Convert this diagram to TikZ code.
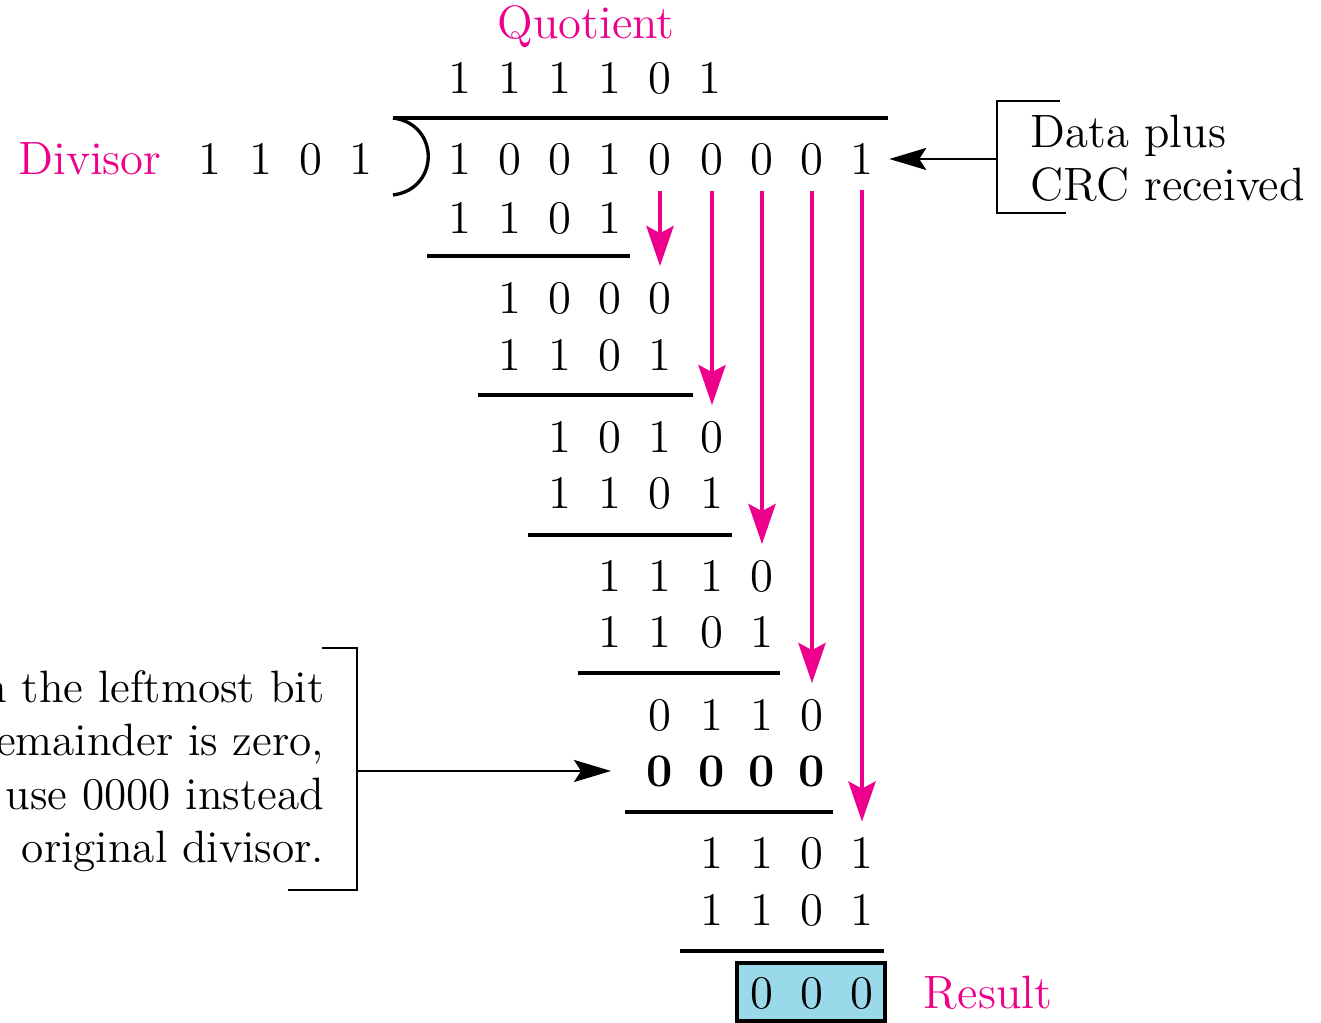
\documentclass[tikz,border=0pt]{standalone}
\usepackage{fontspec}
\usetikzlibrary{arrows.meta}
\definecolor{crcpink}{RGB}{236,0,140}
\definecolor{resblue}{RGB}{153,217,234}

\begin{document}
\begin{tikzpicture}[x=1cm, y=-1cm,
  every node/.style={font=\fontsize{13.3}{15.2}\selectfont},
  bit/.style={inner sep=4.3pt},
  boldbit/.style={inner sep=4.3pt, font=\fontsize{13.3}{15.2}\selectfont\bfseries},
  pinklabel/.style={text=crcpink},
  barline/.style={line width=0.95pt},
  bringdown/.style={draw=crcpink, line width=1.35pt, -{Stealth[length=0.4cm, width=0.27cm, inset=0.07cm]}},
  pointer/.style={draw=black, line width=0.75pt, -{Stealth[length=0.37cm, width=0.22cm, inset=0.07cm]}}]
\useasboundingbox (0,0) rectangle (13.21,10.23);

% labels
\node[pinklabel] (quot) at (5.86,0.27) {Quotient};
\node[pinklabel] (dvsr) at (0.90,1.59) {Divisor};
\node[pinklabel] (res) at (9.88,9.93) {Result};

% quotient
\node[bit] (q0) at (4.60,0.78) {1};
\node[bit] (q1) at (5.10,0.78) {1};
\node[bit] (q2) at (5.60,0.78) {1};
\node[bit] (q3) at (6.10,0.78) {1};
\node[bit] (q4) at (6.60,0.78) {0};
\node[bit] (q5) at (7.10,0.78) {1};

% divisor
\node[bit] (v0) at (2.10,1.59) {1};
\node[bit] (v1) at (2.61,1.59) {1};
\node[bit] (v2) at (3.11,1.59) {0};
\node[bit] (v3) at (3.61,1.59) {1};

% dividend
\node[bit] (d0) at (4.60,1.59) {1};
\node[bit] (d1) at (5.10,1.59) {0};
\node[bit] (d2) at (5.60,1.59) {0};
\node[bit] (d3) at (6.10,1.59) {1};
\node[bit] (d4) at (6.60,1.59) {0};
\node[bit] (d5) at (7.12,1.59) {0};
\node[bit] (d6) at (7.62,1.59) {0};
\node[bit] (d7) at (8.12,1.59) {0};
\node[bit] (d8) at (8.62,1.59) {1};

\draw[barline] (3.93,1.18) -- (8.88,1.18);
\draw[barline] (3.93,1.18) .. controls (4.40,1.24) and (4.40,1.89) .. (3.93,1.95);

% step 1
\node[bit] (m1c0) at (4.60,2.18) {1};
\node[bit] (m1c1) at (5.10,2.18) {1};
\node[bit] (m1c2) at (5.60,2.18) {0};
\node[bit] (m1c3) at (6.10,2.18) {1};
\draw[barline] (4.27,2.56) -- (6.30,2.56);

\node[bit] (p1c1) at (5.10,2.98) {1};
\node[bit] (p1c2) at (5.60,2.98) {0};
\node[bit] (p1c3) at (6.10,2.98) {0};
\node[bit] (p1c4) at (6.60,2.98) {0};

% step 2
\node[bit] (m2c1) at (5.10,3.55) {1};
\node[bit] (m2c2) at (5.60,3.55) {1};
\node[bit] (m2c3) at (6.10,3.55) {0};
\node[bit] (m2c4) at (6.60,3.55) {1};
\draw[barline] (4.78,3.95) -- (6.93,3.95);

\node[bit] (p2c2) at (5.60,4.37) {1};
\node[bit] (p2c3) at (6.10,4.37) {0};
\node[bit] (p2c4) at (6.60,4.37) {1};
\node[bit] (p2c5) at (7.12,4.37) {0};

% step 3
\node[bit] (m3c2) at (5.60,4.93) {1};
\node[bit] (m3c3) at (6.10,4.93) {1};
\node[bit] (m3c4) at (6.60,4.93) {0};
\node[bit] (m3c5) at (7.12,4.93) {1};
\draw[barline] (5.28,5.35) -- (7.32,5.35);

\node[bit] (p3c3) at (6.10,5.76) {1};
\node[bit] (p3c4) at (6.60,5.76) {1};
\node[bit] (p3c5) at (7.12,5.76) {1};
\node[bit] (p3c6) at (7.62,5.76) {0};

% step 4
\node[bit] (m4c3) at (6.10,6.32) {1};
\node[bit] (m4c4) at (6.60,6.32) {1};
\node[bit] (m4c5) at (7.12,6.32) {0};
\node[bit] (m4c6) at (7.62,6.32) {1};
\draw[barline] (5.78,6.73) -- (7.80,6.73);

\node[bit] (p4c4) at (6.60,7.15) {0};
\node[bit] (p4c5) at (7.12,7.15) {1};
\node[bit] (p4c6) at (7.62,7.15) {1};
\node[bit] (p4c7) at (8.12,7.15) {0};

% step 5, leading bit is 0
\node[boldbit] (m5c4) at (6.60,7.71) {0};
\node[boldbit] (m5c5) at (7.12,7.71) {0};
\node[boldbit] (m5c6) at (7.62,7.71) {0};
\node[boldbit] (m5c7) at (8.12,7.71) {0};
\draw[barline] (6.25,8.12) -- (8.33,8.12);

\node[bit] (p5c5) at (7.12,8.53) {1};
\node[bit] (p5c6) at (7.62,8.53) {1};
\node[bit] (p5c7) at (8.12,8.53) {0};
\node[bit] (p5c8) at (8.62,8.53) {1};

% step 6
\node[bit] (m6c5) at (7.12,9.10) {1};
\node[bit] (m6c6) at (7.62,9.10) {1};
\node[bit] (m6c7) at (8.12,9.10) {0};
\node[bit] (m6c8) at (8.62,9.10) {1};
\draw[barline] (6.80,9.51) -- (8.84,9.51);

% remainder
\filldraw[fill=resblue, draw=black, line width=0.9pt] (7.37,9.63) rectangle (8.85,10.21);
\node[bit] (rc6) at (7.62,9.93) {0};
\node[bit] (rc7) at (8.12,9.93) {0};
\node[bit] (rc8) at (8.62,9.93) {0};

% bits brought down
\draw[bringdown] (d4.south) -- (p1c4.north);
\draw[bringdown] (d5.south) -- (p2c5.north);
\draw[bringdown] (d6.south) -- (p3c6.north);
\draw[bringdown] (d7.south) -- (p4c7.north);
\draw[bringdown] (d8.south) -- (p5c8.north);

% callouts
\draw[line width=0.8pt] (10.60,1.01) -- (9.97,1.01) -- (9.97,2.13) -- (10.66,2.13);
\coordinate (crcin) at (9.97,1.59);
\node[anchor=west, align=left, inner sep=0, font=\fontsize{13.3}{15}\selectfont] (crc) at (10.30,1.585) {Data plus\\CRC received};
\draw[pointer] (crcin) -- (d8.east);

\draw[line width=0.8pt] (3.22,6.48) -- (3.57,6.48) -- (3.57,8.90) -- (2.88,8.90);
\coordinate (zeroin) at (3.57,7.71);
\node[anchor=east, align=right, inner sep=0, font=\fontsize{12.9}{15.2}\selectfont] (note) at (3.25,7.71) {n the leftmost bit\\emainder is zero,\\use 0000 instead\\original divisor.};
\draw[pointer] (zeroin) -- ([xshift=-0.2cm]m5c4.west);
\end{tikzpicture}
\end{document}
